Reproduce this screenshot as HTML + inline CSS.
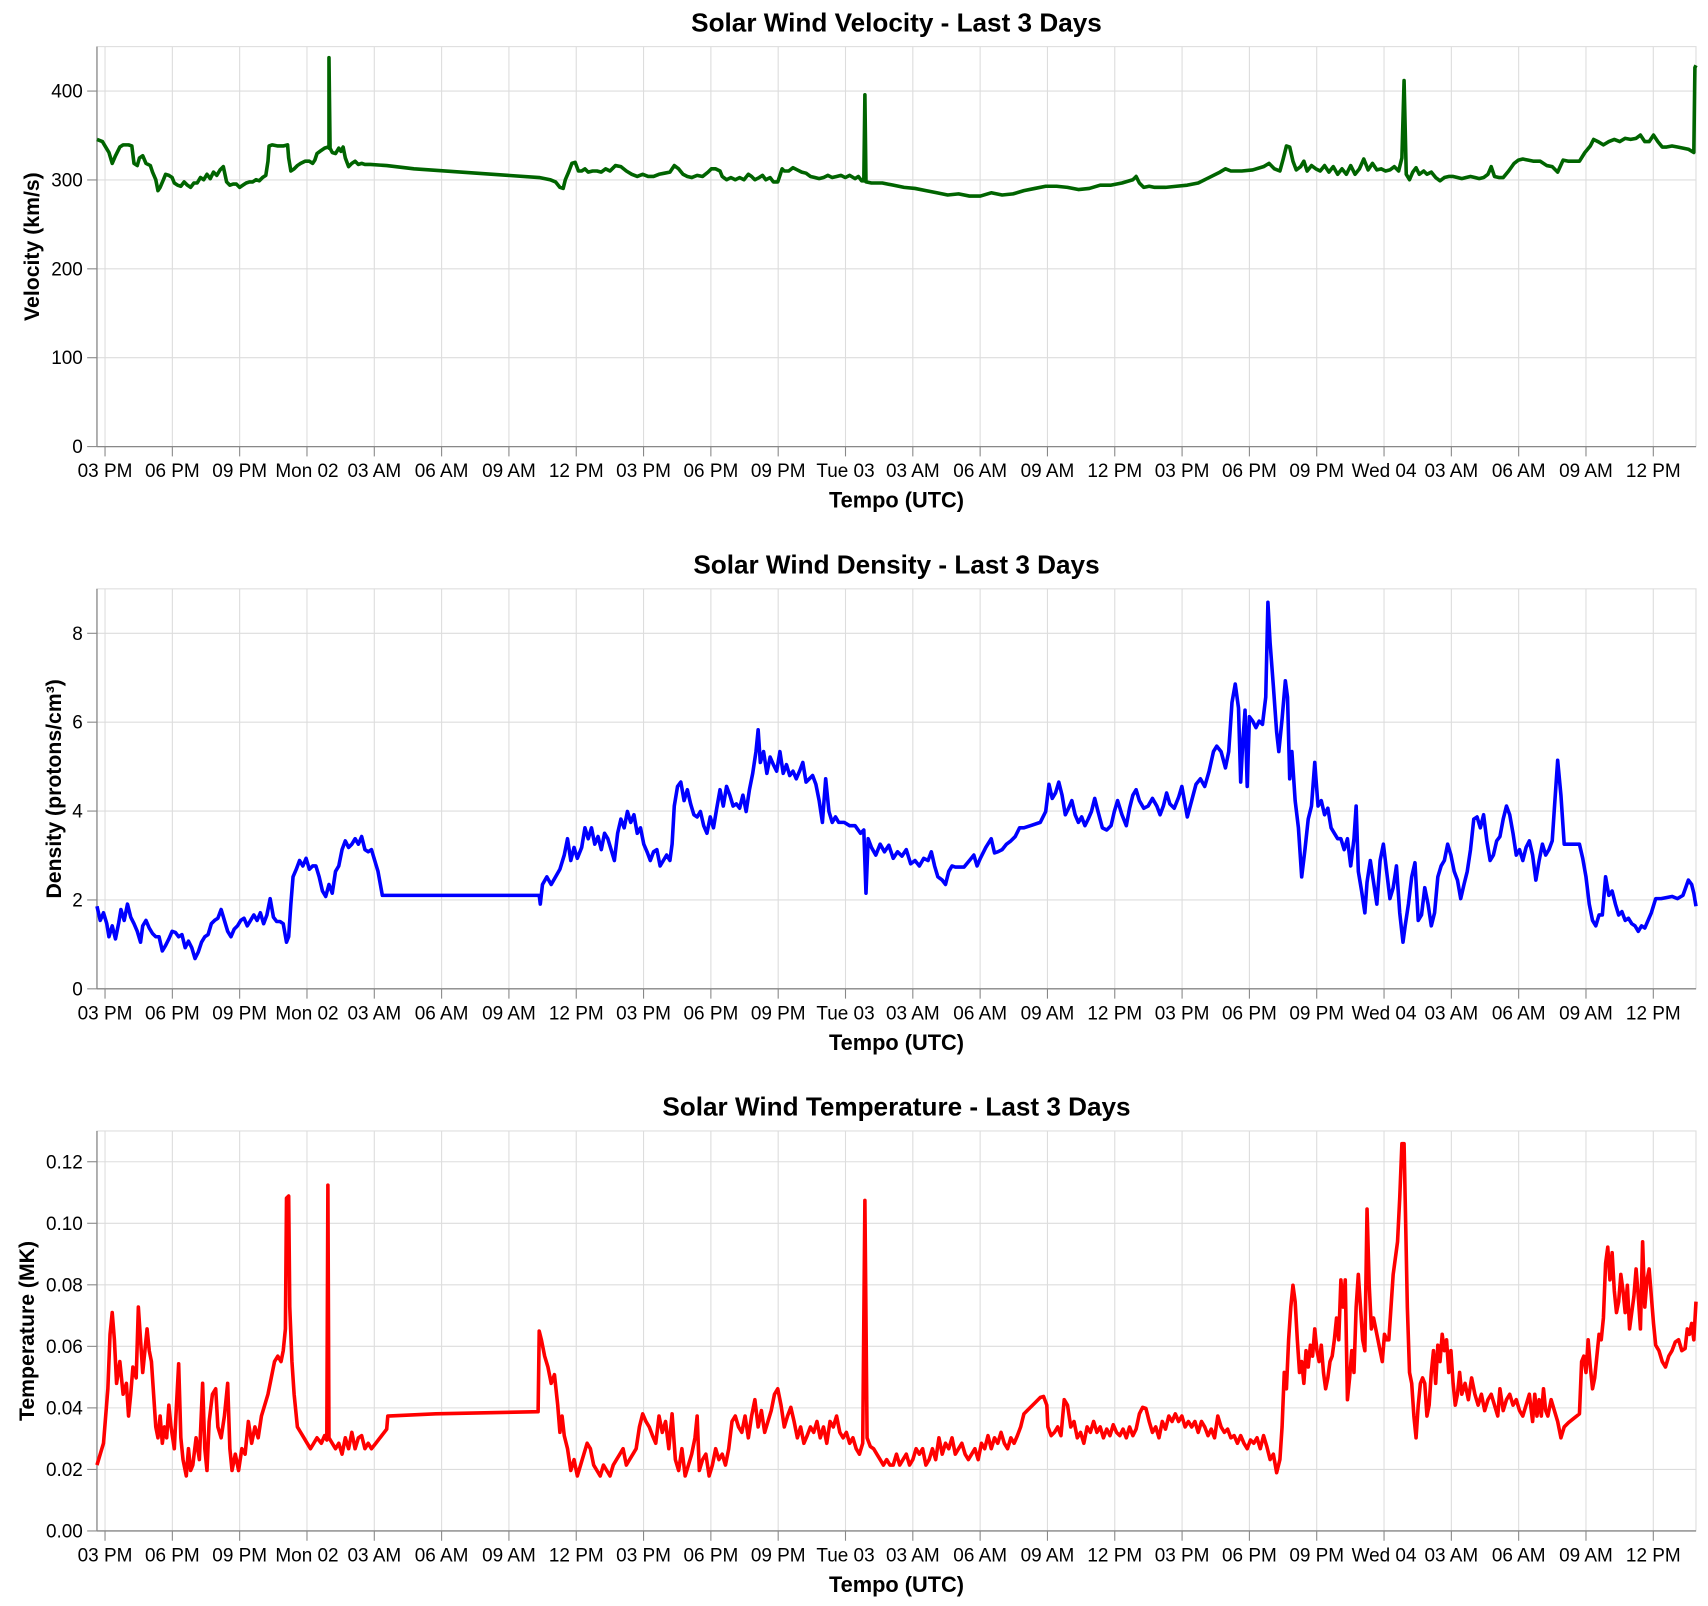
<!DOCTYPE html>
<html><head><meta charset="utf-8"><style>
html,body{margin:0;padding:0;background:#fff}
svg{display:block}
text{font-family:"Liberation Sans",Arial,sans-serif;fill:#000}
</style></head><body>
<svg id="s" width="1708" height="1606" viewBox="0 0 1568 1474.4" xmlns="http://www.w3.org/2000/svg"></svg>
<script>
var NS="http://www.w3.org/2000/svg",S=document.getElementById('s');
function el(n,a,t){var e=document.createElementNS(NS,n);for(var k in a)e.setAttribute(k,a[k]);if(t!=null)e.textContent=t;S.appendChild(e);return e;}
var L=89,R=1557,XL=["03 PM","06 PM","09 PM","Mon 02","03 AM","06 AM","09 AM","12 PM","03 PM","06 PM","09 PM","Tue 03","03 AM","06 AM","09 AM","12 PM","03 PM","06 PM","09 PM","Wed 04","03 AM","06 AM","09 AM","12 PM"];
function chart(top,title,ytitle,ytx,max,ticks,fmt,color,pts){
 var bot=top+367.2,H=367.2;
 el('rect',{x:L,y:top,width:R-L,height:H,fill:'none',stroke:'#ddd','stroke-width':1});
 ticks.forEach(function(v){var y=bot-v/max*H;
  el('line',{x1:L,x2:R,y1:y,y2:y,stroke:'#ddd','stroke-width':1});
  el('line',{x1:80,x2:L,y1:y,y2:y,stroke:'#888','stroke-width':1});
  el('text',{x:76,y:y+6,'text-anchor':'end','font-size':17.4},fmt(v));});
 XL.forEach(function(l,i){var x=96.4+61.8*i;
  el('line',{x1:x,x2:x,y1:top,y2:bot,stroke:'#ddd','stroke-width':1});
  el('line',{x1:x,x2:x,y1:bot,y2:bot+9,stroke:'#888','stroke-width':1});
  el('text',{x:x,y:bot+28,'text-anchor':'middle','font-size':17.4},l);});
 el('line',{x1:L,x2:R,y1:bot,y2:bot,stroke:'#888','stroke-width':1.2});
 el('line',{x1:L,x2:L,y1:top,y2:bot,stroke:'#888','stroke-width':1.2});
 el('text',{x:823,y:top-14,'text-anchor':'middle','font-size':24,'font-weight':'bold'},title);
 el('text',{x:823,y:bot+56,'text-anchor':'middle','font-size':20,'font-weight':'bold'},'Tempo (UTC)');
 el('text',{x:0,y:0,'text-anchor':'middle','font-size':19.5,'font-weight':'bold',transform:'translate('+ytx+','+(top+H/2)+') rotate(-90)'},ytitle);
 el('polyline',{points:pts,fill:'none',stroke:color,'stroke-width':3.3,'stroke-linejoin':'round'});
}
var V="89,128 94,130 97,135 100,140 103,150 106,143 110,135 113,133 118,133 121,134 123,150 126,152 128,145 131,143 134,150 138,152 140,158 143,165 145,175 147,172 150,165 152,160 155,161 158,163 160,168 163,170 166,171 169,167 172,170 175,172 178,168 181,168 184,163 187,165 190,160 193,164 196,158 199,161 202,156 205,153 208,167 211,170 214,169 217,169 220,172 223,170 226,168 229,167 232,167 235,165 238,166 241,163 244,161 246,148 247,134 250,133 255,134 260,134 264,133 265,145 267,157 270,155 273,152 276,150 280,148 284,148 287,150 289,147 291,141 295,138 298,136 301,135 302,136 302,53 303,136 305,140 308,141 311,136 313,139 315,135 317,145 320,153 323,150 326,148 329,151 332,150 335,151 340,151 355,152 380,155 495,163 505,165 510,167 514,172 517,173 519,165 522,158 525,150 528,149 531,157 534,157 537,155 540,158 544,157 548,157 552,158 556,155 560,157 565,152 570,153 575,157 580,160 585,162 590,160 595,162 600,162 605,160 610,159 615,158 619,152 623,155 627,160 631,162 635,163 640,161 645,162 650,158 653,155 657,155 661,157 663,162 667,165 671,163 675,165 679,163 683,165 687,160 690,162 693,165 697,163 700,161 703,165 707,163 710,167 714,167 716,161 718,155 720,157 724,157 728,154 732,156 736,158 740,159 744,162 748,163 752,164 756,163 760,161 764,163 768,162 772,161 776,163 780,161 785,164 788,162 791,166 793,166 794,87 795,167 800,168 810,168 820,170 830,172 840,173 850,175 860,177 870,179 880,178 890,180 900,180 910,177 920,179 930,178 940,175 950,173 960,171 970,171 980,172 990,174 1000,173 1010,170 1020,170 1030,168 1040,165 1043,162 1046,168 1050,172 1055,171 1060,172 1070,172 1080,171 1090,170 1100,168 1110,163 1120,158 1125,155 1130,157 1140,157 1150,156 1160,153 1165,150 1170,155 1175,157 1178,146 1181,134 1184,135 1187,148 1190,156 1194,153 1197,148 1200,157 1204,152 1208,155 1212,157 1216,152 1220,158 1224,153 1228,160 1232,155 1236,160 1240,152 1244,160 1248,155 1252,146 1256,156 1260,150 1264,156 1268,155 1272,157 1276,156 1280,153 1284,157 1287,145 1289,74 1291,160 1294,165 1297,158 1300,154 1303,160 1307,157 1310,160 1314,158 1318,163 1322,166 1326,163 1330,162 1334,162 1338,163 1342,164 1346,163 1350,162 1354,163 1358,164 1362,163 1366,160 1369,153 1372,162 1376,163 1380,163 1385,157 1390,150 1394,147 1398,146 1403,147 1408,148 1414,148 1420,152 1425,153 1430,158 1435,147 1440,148 1445,148 1450,148 1455,140 1460,134 1463,128 1467,130 1472,133 1477,130 1482,128 1487,130 1492,127 1497,128 1502,127 1506,124 1510,130 1514,130 1518,124 1522,130 1526,135 1530,135 1535,134 1540,135 1545,136 1550,137 1555,140 1556,62 1557,60";
var D="89,832 92,845 95,838 98,848 100,860 103,850 106,862 109,847 111,835 114,845 117,830 120,842 123,848 126,855 129,865 131,850 134,845 137,852 140,857 143,860 146,860 149,873 152,868 155,862 158,855 161,856 164,860 167,858 170,870 173,864 176,870 179,880 182,874 185,865 188,860 191,858 194,848 197,845 200,843 203,835 206,845 209,855 212,860 215,853 218,850 221,845 224,843 227,850 230,845 233,840 236,845 239,838 242,848 245,840 248,825 251,842 254,846 257,846 260,848 263,865 265,860 267,830 269,805 272,798 275,790 278,795 281,788 284,798 287,795 290,795 293,805 296,818 299,823 302,812 305,820 308,800 311,795 314,780 317,772 320,778 323,775 326,770 329,775 332,768 335,780 338,782 341,780 344,790 347,800 351,822 355,822 400,822 480,822 495,822 496,830 498,812 502,805 506,812 510,805 514,798 518,785 521,770 524,790 527,778 530,788 534,778 537,760 540,770 543,760 546,775 549,768 552,780 555,765 558,770 561,780 564,790 567,765 570,752 573,760 576,745 579,755 582,748 585,765 588,760 591,775 594,782 597,790 600,782 603,780 606,795 609,790 612,785 615,790 617,775 619,740 622,722 625,718 628,735 631,725 634,738 637,748 640,750 643,745 646,758 649,765 652,750 655,760 658,742 661,725 664,740 667,722 670,730 673,740 676,738 679,742 682,730 685,745 688,725 691,710 694,690 696,670 698,700 701,690 704,710 707,695 710,702 713,708 716,690 719,710 722,702 725,712 728,708 731,715 734,708 737,700 740,718 743,715 746,712 749,720 752,735 755,755 758,715 761,745 764,755 767,750 770,755 775,755 780,758 785,758 790,765 793,762 795,820 797,770 800,778 804,785 808,775 812,782 816,776 820,788 824,782 828,786 832,780 836,793 840,790 844,795 848,788 852,790 855,782 858,795 861,805 865,808 868,812 871,800 874,795 877,796 880,796 885,796 890,790 894,785 897,795 900,788 905,778 910,770 913,783 916,782 920,780 924,775 928,772 932,768 936,760 940,760 946,758 955,755 960,745 963,720 966,733 969,728 972,718 975,730 978,748 981,742 984,735 987,748 990,755 993,750 996,758 999,752 1002,745 1005,733 1008,745 1012,760 1016,762 1020,758 1023,745 1026,735 1030,748 1034,758 1037,742 1040,730 1043,725 1046,735 1050,742 1054,740 1058,733 1062,740 1065,748 1068,740 1071,728 1074,738 1078,742 1082,732 1085,722 1090,750 1094,735 1098,720 1102,715 1106,722 1110,708 1114,690 1117,685 1121,690 1125,705 1128,690 1131,645 1134,628 1137,650 1139,718 1141,680 1143,652 1145,722 1147,658 1150,662 1153,668 1156,662 1159,665 1162,640 1164,553 1166,590 1169,630 1172,672 1174,690 1177,660 1180,625 1182,640 1184,715 1186,690 1189,735 1192,760 1195,805 1198,780 1201,752 1204,740 1207,700 1210,740 1213,735 1216,748 1219,742 1222,760 1225,765 1228,770 1231,770 1234,780 1237,770 1240,795 1243,770 1245,740 1247,800 1250,818 1253,838 1255,810 1258,790 1261,810 1264,830 1267,790 1270,775 1273,800 1276,825 1279,815 1282,795 1285,838 1288,865 1290,850 1293,830 1296,805 1299,792 1302,845 1305,840 1308,815 1311,830 1314,850 1317,838 1320,805 1323,795 1326,790 1329,775 1332,785 1335,800 1338,808 1341,825 1344,812 1347,800 1350,780 1353,752 1356,750 1359,760 1362,748 1365,772 1368,790 1371,785 1374,772 1377,768 1380,752 1383,740 1386,748 1389,765 1392,785 1395,780 1398,790 1401,778 1404,772 1407,785 1410,808 1413,790 1416,775 1419,785 1422,780 1425,772 1427,742 1430,698 1433,730 1436,775 1440,775 1450,775 1453,788 1456,805 1459,830 1462,845 1465,850 1468,840 1471,840 1474,805 1477,822 1480,818 1483,830 1486,840 1489,837 1492,845 1495,843 1498,848 1501,850 1504,855 1507,850 1510,852 1513,845 1516,838 1520,825 1525,825 1535,823 1540,825 1545,822 1550,808 1553,812 1555,820 1557,832";
var T="89,1345 92,1335 95,1325 97,1300 99,1275 101,1225 103,1205 105,1230 107,1270 110,1250 113,1280 116,1270 118,1300 120,1280 122,1255 125,1265 127,1200 129,1230 131,1260 133,1240 135,1220 137,1240 139,1250 141,1280 143,1310 145,1320 147,1300 149,1325 151,1310 153,1320 155,1290 157,1310 160,1330 162,1290 164,1252 166,1320 168,1340 171,1355 173,1330 175,1350 177,1345 180,1320 183,1340 186,1270 188,1330 190,1350 192,1305 195,1280 198,1275 200,1310 203,1320 206,1300 209,1270 211,1330 213,1350 216,1335 219,1350 222,1330 225,1335 228,1305 231,1325 234,1310 237,1320 240,1300 243,1290 246,1280 249,1265 252,1250 255,1245 258,1250 260,1240 262,1220 263,1100 265,1098 266,1200 268,1250 270,1280 273,1310 276,1315 279,1320 282,1325 285,1330 288,1325 291,1320 295,1325 298,1318 300,1322 301,1088 302,1320 305,1325 308,1330 311,1325 314,1335 317,1320 320,1330 323,1315 326,1330 329,1320 332,1318 335,1330 338,1325 341,1330 345,1325 355,1312 356,1300 400,1298 494,1296 495,1222 497,1230 500,1245 503,1255 506,1270 509,1262 512,1290 514,1315 516,1300 518,1318 521,1330 524,1350 527,1340 530,1355 533,1345 536,1335 539,1325 542,1330 545,1345 548,1350 551,1355 554,1345 557,1350 560,1355 563,1345 566,1340 569,1335 572,1330 575,1345 578,1340 581,1335 584,1330 587,1310 590,1298 593,1305 596,1310 599,1318 602,1325 605,1300 608,1315 611,1305 614,1330 617,1298 620,1340 623,1350 626,1330 629,1355 632,1345 635,1335 638,1320 640,1300 642,1350 645,1340 648,1335 651,1355 654,1345 657,1330 660,1340 663,1335 666,1345 669,1330 672,1305 675,1300 678,1310 681,1315 684,1300 687,1320 690,1300 693,1285 696,1310 699,1295 702,1315 705,1305 708,1295 711,1280 714,1275 717,1290 720,1310 723,1300 726,1292 729,1305 732,1320 735,1310 738,1325 741,1318 744,1310 747,1315 750,1305 753,1320 756,1310 759,1325 762,1305 765,1310 768,1300 771,1315 774,1320 777,1315 780,1325 783,1320 786,1330 789,1335 792,1325 794,1102 796,1320 799,1328 802,1330 805,1335 808,1340 811,1345 814,1340 817,1345 820,1345 823,1335 826,1345 829,1340 832,1335 835,1345 838,1340 841,1330 844,1335 847,1330 850,1345 853,1340 856,1330 859,1340 862,1320 865,1335 868,1325 871,1330 874,1320 877,1335 880,1330 883,1325 886,1335 889,1340 892,1335 895,1330 898,1340 901,1325 904,1330 907,1318 910,1330 913,1320 916,1325 919,1315 922,1325 925,1330 928,1320 931,1325 934,1318 937,1310 940,1298 945,1293 950,1288 955,1283 958,1282 961,1290 962,1310 965,1318 968,1315 971,1310 974,1318 977,1285 980,1290 983,1310 986,1305 989,1320 992,1315 995,1325 998,1310 1001,1315 1004,1305 1007,1315 1010,1310 1013,1320 1016,1312 1019,1318 1022,1308 1025,1315 1028,1318 1031,1312 1034,1320 1037,1310 1040,1318 1043,1312 1046,1298 1049,1292 1052,1293 1055,1305 1058,1315 1061,1310 1064,1320 1067,1305 1070,1312 1073,1300 1076,1305 1079,1298 1082,1305 1085,1300 1088,1310 1091,1305 1094,1310 1097,1305 1100,1315 1103,1305 1106,1310 1109,1318 1112,1312 1115,1320 1118,1300 1121,1310 1124,1315 1127,1312 1130,1320 1133,1318 1136,1325 1139,1318 1142,1325 1145,1330 1148,1322 1151,1325 1154,1320 1157,1330 1160,1318 1163,1328 1166,1340 1169,1335 1172,1352 1175,1340 1177,1310 1179,1260 1181,1275 1183,1230 1185,1200 1187,1180 1189,1195 1191,1230 1193,1260 1195,1250 1197,1270 1199,1240 1201,1255 1203,1235 1205,1245 1207,1220 1209,1240 1211,1250 1213,1235 1215,1260 1217,1275 1219,1265 1221,1250 1223,1245 1225,1230 1227,1210 1229,1230 1231,1175 1233,1200 1235,1175 1237,1285 1239,1265 1241,1240 1243,1260 1245,1200 1247,1170 1249,1200 1251,1230 1253,1240 1255,1110 1257,1180 1259,1220 1261,1210 1263,1220 1265,1230 1267,1240 1269,1250 1271,1225 1273,1230 1275,1230 1277,1200 1279,1170 1281,1155 1283,1140 1285,1100 1287,1050 1289,1050 1290,1100 1292,1200 1294,1260 1296,1270 1298,1300 1300,1320 1302,1290 1304,1270 1306,1265 1308,1270 1310,1300 1312,1290 1314,1260 1316,1240 1318,1270 1320,1235 1322,1250 1324,1225 1326,1240 1328,1230 1330,1260 1332,1240 1334,1270 1336,1290 1338,1280 1340,1260 1342,1280 1345,1270 1348,1285 1351,1265 1354,1280 1357,1290 1360,1280 1363,1295 1366,1285 1369,1280 1372,1290 1375,1300 1377,1275 1380,1295 1383,1285 1386,1280 1389,1290 1392,1285 1395,1295 1398,1300 1401,1290 1404,1280 1407,1305 1409,1280 1411,1300 1413,1285 1415,1300 1417,1275 1419,1295 1421,1300 1424,1285 1427,1295 1430,1305 1433,1320 1436,1310 1440,1306 1445,1302 1450,1298 1452,1250 1454,1245 1456,1260 1458,1230 1460,1255 1462,1275 1464,1265 1466,1245 1468,1225 1470,1230 1472,1210 1474,1160 1476,1145 1478,1175 1480,1150 1482,1185 1484,1205 1486,1195 1488,1170 1490,1185 1492,1205 1494,1180 1496,1220 1498,1205 1500,1190 1502,1165 1504,1190 1506,1220 1508,1140 1510,1200 1512,1175 1514,1165 1516,1190 1518,1215 1520,1235 1523,1240 1526,1250 1529,1255 1532,1245 1535,1240 1538,1232 1541,1230 1544,1240 1547,1238 1549,1220 1551,1225 1553,1215 1555,1230 1557,1195";
chart(42.8,"Solar Wind Velocity - Last 3 Days","Velocity (km/s)",36,450,[0,100,200,300,400],function(v){return ""+v},"#006400",V);
chart(540.6,"Solar Wind Density - Last 3 Days","Density (protons/cm³)",56,9,[0,2,4,6,8],function(v){return ""+v},"#0000ff",D);
chart(1038.3,"Solar Wind Temperature - Last 3 Days","Temperature (MK)",31,0.13,[0,0.02,0.04,0.06,0.08,0.10,0.12],function(v){return v.toFixed(2)},"#ff0000",T);
</script>
</body></html>
